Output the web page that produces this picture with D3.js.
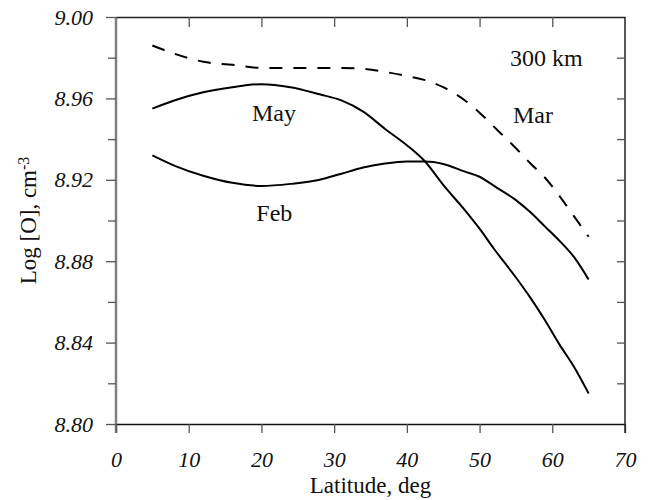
<html>
<head>
    <script src="https://d3js.org/d3.v7.min.js"></script>
    <style>
        body { margin: 0; background: white; }
        text { font-family: "Liberation Serif", "Times New Roman", serif; fill: #111; }
        .tick text { font-style: italic; font-size: 22px; }
    </style>
</head>
<body>
    <svg id="chart" height="500" width="649"></svg>

    <script>

    // latitude (deg) and Log [O] values
    const latitudes = [5, 8, 12, 16, 20, 24, 28, 31, 34, 37, 40, 42.5, 45, 48, 50, 52, 55, 57, 59, 61, 63, 65];
    const febValues = [8.932, 8.927, 8.922, 8.9185, 8.917, 8.918, 8.920, 8.923, 8.926, 8.928, 8.929, 8.929, 8.9278, 8.924, 8.9215, 8.917, 8.910, 8.904, 8.897, 8.890, 8.882, 8.871];
    const mayValues = [8.955, 8.959, 8.963, 8.9655, 8.967, 8.9655, 8.962, 8.959, 8.9535, 8.945, 8.937, 8.929, 8.9175, 8.905, 8.896, 8.886, 8.872, 8.862, 8.851, 8.839, 8.828, 8.815];
    const marValues = [8.986, 8.982, 8.978, 8.9765, 8.975, 8.975, 8.975, 8.975, 8.9745, 8.973, 8.971, 8.969, 8.9655, 8.959, 8.953, 8.946, 8.9355, 8.928, 8.921, 8.912, 8.902, 8.892];

    const xTicks = [0, 10, 20, 30, 40, 50, 60, 70];
    const yTicks = [8.80, 8.84, 8.88, 8.92, 8.96, 9.00];
    const yMinorTicks = [8.82, 8.86, 8.90, 8.94, 8.98];

    const labels = [
        {text: "300 km", lat: 54.2, val: 8.976},
        {text: "Mar", lat: 54.6, val: 8.948},
        {text: "May", lat: 18.7, val: 8.949},
        {text: "Feb", lat: 19.3, val: 8.900}
    ];

    const svg = d3.select("#chart");
    const margin = {top: 17, right: 24, bottom: 76, left: 116};
    const width = +svg.attr("width");
    const height = +svg.attr("height");

    const x = d3.scaleLinear().domain([0, 70]).range([margin.left, width - margin.right]);
    const y = d3.scaleLinear().domain([8.80, 9.00]).range([height - margin.bottom, margin.top]);

    const allY = yTicks.concat(yMinorTicks);
    const isMajor = d => yTicks.some(t => Math.abs(t - d) < 1e-9);

    // left axis: grey, ticks outward
    const leftAxis = svg.append("g")
        .attr("transform", `translate(${margin.left},0)`)
        .call(d3.axisLeft(y).tickValues(allY).tickSize(10).tickSizeOuter(0)
            .tickFormat(d => isMajor(d) ? d3.format(".2f")(d) : ""));
    leftAxis.attr("font-family", null).attr("font-size", null);
    leftAxis.select(".domain").attr("stroke", "#808080").attr("stroke-width", 2.5)
        .attr("d", `M0,${y(9.00)}V${y(8.80) + 9}`);
    leftAxis.selectAll(".tick line").attr("stroke", "#555").attr("stroke-width", 1.3)
        .attr("x2", d => isMajor(d) ? -10 : -8);
    leftAxis.selectAll(".tick text").attr("x", -23).attr("fill", "#111");

    // bottom axis: ticks outward
    const bottomAxis = svg.append("g")
        .attr("transform", `translate(0,${height - margin.bottom})`)
        .call(d3.axisBottom(x).tickValues(xTicks).tickSize(9).tickSizeOuter(0).tickFormat(d3.format("d")));
    bottomAxis.attr("font-family", null).attr("font-size", null);
    bottomAxis.select(".domain").attr("stroke", "#111").attr("stroke-width", 1.5);
    bottomAxis.selectAll(".tick line").attr("stroke", "#555").attr("stroke-width", 1.3);
    bottomAxis.selectAll(".tick text").attr("y", 27).attr("dy", "0.71em").attr("fill", "#111");

    // top axis: ticks inward
    const topAxis = svg.append("g")
        .attr("transform", `translate(0,${margin.top})`)
        .call(d3.axisTop(x).tickValues(xTicks.slice(1, -1)).tickSize(-10).tickSizeOuter(0).tickFormat(""));
    topAxis.select(".domain").attr("stroke", "#222").attr("stroke-width", 1.5);
    topAxis.selectAll(".tick line").attr("stroke", "#555").attr("stroke-width", 1.3);

    // right axis: ticks inward
    const rightAxis = svg.append("g")
        .attr("transform", `translate(${width - margin.right},0)`)
        .call(d3.axisRight(y).tickValues(allY.filter(d => d > 8.801 && d < 8.999)).tickSize(-8).tickSizeOuter(0).tickFormat(""));
    rightAxis.select(".domain").attr("stroke", "#222").attr("stroke-width", 1.5)
        .attr("d", `M0,${y(9.00)}V${y(8.80) + 9}`);
    rightAxis.selectAll(".tick line").attr("stroke", "#555").attr("stroke-width", 1.3);

    // curves
    const series = [
        {name: "Feb", values: febValues, dash: null},
        {name: "May", values: mayValues, dash: null},
        {name: "Mar", values: marValues, dash: "13,11"}
    ];

    const line = d3.line()
        .x(d => x(d[0]))
        .y(d => y(d[1]))
        .curve(d3.curveMonotoneX);

    svg.append("g").selectAll("path").data(series)
        .join("path")
        .attr("d", s => line(latitudes.map((lat, i) => [lat, s.values[i]])))
        .attr("fill", "none")
        .attr("stroke", "#000")
        .attr("stroke-width", 2)
        .attr("stroke-dasharray", s => s.dash);

    // in-plot labels
    svg.append("g").selectAll("text").data(labels)
        .join("text")
        .attr("x", d => x(d.lat))
        .attr("y", d => y(d.val))
        .style("font-size", "24px")
        .text(d => d.text);

    // axis titles
    svg.append("text")
        .attr("x", (x(0) + x(70)) / 2)
        .attr("y", 493)
        .attr("text-anchor", "middle")
        .style("font-size", "23px")
        .text("Latitude, deg");

    const yTitle = svg.append("text")
        .attr("transform", `translate(36,${(y(8.80) + y(9.00)) / 2}) rotate(-90)`)
        .attr("text-anchor", "middle")
        .style("font-size", "23px");
    yTitle.append("tspan").text("Log [O], cm");
    yTitle.append("tspan").attr("dy", "-0.45em").style("font-size", "16px").text("-3");

    </script>
</body>
</html>
